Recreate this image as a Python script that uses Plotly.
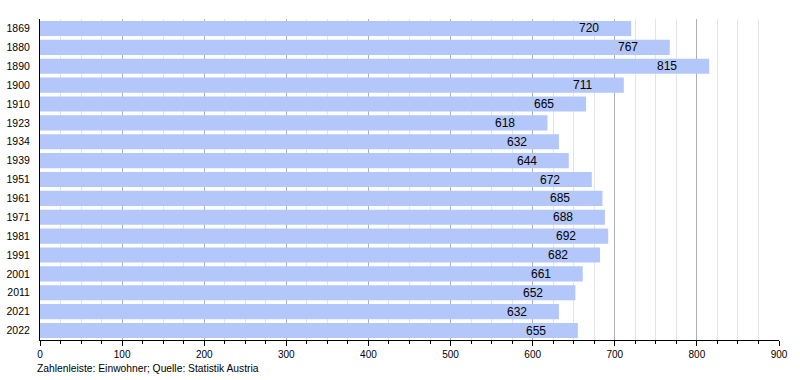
import plotly.graph_objects as go

years = ["1869", "1880", "1890", "1900", "1910", "1923", "1934", "1939", "1951",
         "1961", "1971", "1981", "1991", "2001", "2011", "2021", "2022"]
population = [720, 767, 815, 711, 665, 618, 632, 644, 672, 685, 688, 692, 682, 661, 652, 632, 655]
x_ticks = [0, 100, 200, 300, 400, 500, 600, 700, 800, 900]
caption = "Zahlenleiste: Einwohner; Quelle: Statistik Austria"

FONT = "Liberation Sans, Arial, sans-serif"

fig = go.Figure()
fig.add_trace(go.Bar(
    x=population, y=years, orientation="h",
    marker=dict(color="#b3c7fb", line=dict(width=0)),
    hoverinfo="x+y",
))

# category index positions for value labels
for i, v in enumerate(population):
    fig.add_annotation(x=v, y=i, text=str(v), showarrow=False,
                       xanchor="right", xshift=-30, yshift=0,
                       font=dict(family=FONT, size=12, color="#000000"))

fig.add_annotation(xref="paper", yref="paper", x=-0.007, y=-0.066,
                   xanchor="left", yanchor="top", text=caption, showarrow=False,
                   font=dict(family=FONT, size=10.3, color="#000000"))

fig.update_layout(
    width=800, height=380,
    margin=dict(l=40, r=21, t=19, b=40),
    paper_bgcolor="white", plot_bgcolor="white",
    bargap=0.2, showlegend=False,
    font=dict(family=FONT, size=10, color="#000000"),
    xaxis=dict(range=[0, 900], tickvals=x_ticks, ticktext=[str(t) for t in x_ticks],
               showgrid=True, gridcolor="#b0b0b0", gridwidth=1,
               ticks="outside", ticklen=5, tickcolor="#000000",
               showline=True, linecolor="#000000", linewidth=1, zeroline=False,
               minor=dict(dtick=25, showgrid=True, gridcolor="#e4e4e4",
                          ticks="outside", ticklen=3, tickcolor="#000000"),
               tickfont=dict(size=10), fixedrange=True, automargin=False),
    yaxis=dict(type="category", categoryorder="array", categoryarray=years,
               range=[len(years) - 0.5, -0.5], showline=True,
               linecolor="#000000", linewidth=1,
               ticks="", showgrid=False, tickfont=dict(size=10.5), ticklabelstandoff=7,
               fixedrange=True, automargin=False),
)

fig.write_html("out.html", config={"displayModeBar": False},
               post_script="document.body.style.margin='0';")
